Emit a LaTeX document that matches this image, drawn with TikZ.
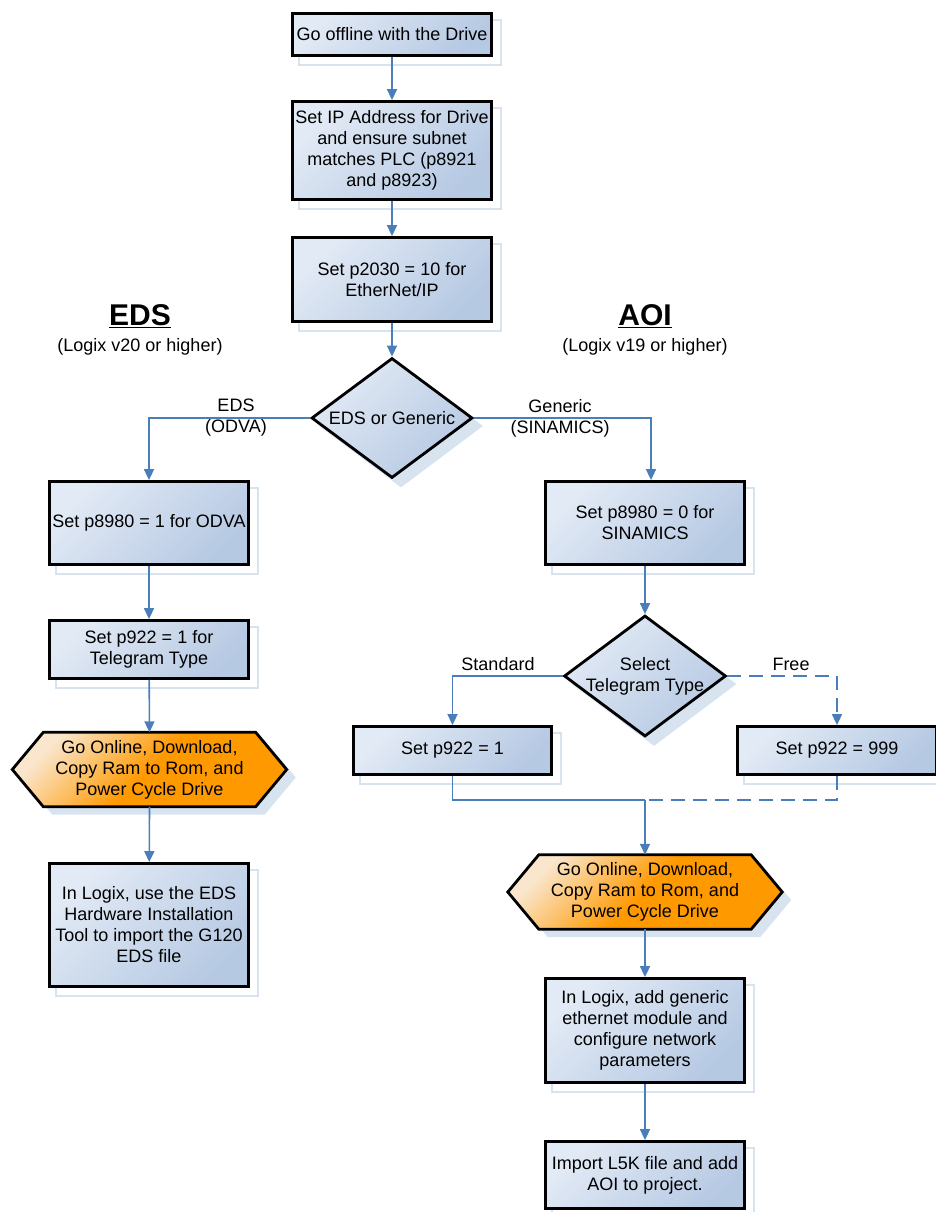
\documentclass[tikz,border=0pt]{standalone}
\usepackage{fontspec}
\setmainfont{Liberation Sans}
\usetikzlibrary{arrows.meta,shapes.geometric,calc}
\definecolor{boxlight}{HTML}{E2EAF5}
\definecolor{boxdark}{HTML}{B6C9E3}
\definecolor{orlight}{HTML}{FAE6CC}
\definecolor{ordark}{HTML}{FF9900}
\definecolor{shadowc}{HTML}{D8E3F0}
\definecolor{connc}{HTML}{4A7EBB}
\pgfdeclarelayer{background}
\pgfsetlayers{background,main}
\newcommand{\bodyfont}{\fontsize{18}{21}\selectfont}
\newcommand{\boxshadow}[1]{\draw[shadowline] ([shift={(8,8)}]#1.north west) rectangle ([shift={(8,8)}]#1.south east);}
\newcommand{\hexpath}[2]{([shift={#2}]#1.west) -- ([shift={#2}]$(#1.north west)+(31,0)$) -- ([shift={#2}]$(#1.north east)+(-31,0)$) -- ([shift={#2}]#1.east) -- ([shift={#2}]$(#1.south east)+(-31,0)$) -- ([shift={#2}]$(#1.south west)+(31,0)$) -- cycle}
\begin{document}
\begin{tikzpicture}[x=1pt,y=-1pt,
  proc/.style={draw=black, line width=2.8pt, top color=boxlight, bottom color=boxdark, shading angle=45,
    align=center, minimum width=199pt, inner sep=2pt, font=\bodyfont, text=black},
  decide/.style={diamond, draw=black, line width=2.8pt, top color=boxlight, bottom color=boxdark, shading angle=45,
    inner sep=0pt, font=\bodyfont, align=center},
  hexbox/.style={shape=rectangle, align=center, minimum width=274pt, minimum height=74pt, inner sep=0pt, font=\bodyfont},
  hexshade/.style={draw=black, line width=2.8pt, top color=orlight, bottom color=ordark, middle color=ordark, shading angle=45},
  shadowline/.style={draw=shadowc, line width=1.3pt},
  conn/.style={draw=connc, line width=1.6pt},
  arr/.style={conn, -{Triangle[length=11pt,width=10pt]}},
  dashconn/.style={conn, dash pattern=on 14pt off 8pt},
  darr/.style={dashconn, -{Triangle[length=11pt,width=10pt]}},
  lbl/.style={font=\bodyfont, align=center, inner sep=0pt},
  title/.style={font=\fontsize{30}{34}\selectfont\bfseries, inner sep=0pt}
]
\useasboundingbox (0,0) rectangle (935,1212);

% main column
\node[proc, minimum height=42pt] (b1) at (392,34.5) {Go offline with the Drive};
\node[proc, minimum height=98pt] (b2) at (392,150.5) {Set IP Address for Drive\\and ensure subnet\\matches PLC (p8921\\and p8923)};
\node[proc, minimum height=84pt] (b3) at (392,279.5) {Set p2030 = 10 for\\EtherNet/IP};
\node[decide, minimum width=161pt, minimum height=120pt, label={[lbl]center:EDS or Generic}] (d1) at (392,418) {};

% titles
\node[title] (tEDS) at (140,316) {\underline{EDS}};
\node[lbl] (sEDS) at (140,347) {(Logix v20 or higher)};
\node[title] (tAOI) at (645,316) {\underline{AOI}};
\node[lbl] (sAOI) at (645,347) {(Logix v19 or higher)};

% left branch
\node[proc, minimum height=83pt] (bA) at (149,523) {Set p8980 = 1 for ODVA};
\node[proc, minimum height=58pt] (bB) at (149,649.5) {Set p922 = 1 for\\Telegram Type};
\node[hexbox] (h1) at (149.5,769.5) {Go Online, Download,\\Copy Ram to Rom, and\\Power Cycle Drive};
\node[proc, minimum height=123pt] (bC) at (149,925) {In Logix, use the EDS\\Hardware Installation\\Tool to import the G120\\EDS file};

% right branch
\node[proc, minimum height=83pt] (bD) at (645,523) {Set p8980 = 0 for\\SINAMICS};
\node[decide, minimum width=162pt, minimum height=121pt, label={[lbl, align=center]center:Select\\Telegram Type}] (d2) at (645,676) {};
\node[proc, minimum width=198pt, minimum height=48pt] (bE) at (452.5,750.5) {Set p922 = 1};
\node[proc, minimum height=48pt] (bF) at (837,750.5) {Set p922 = 999};
\coordinate (m) at (645,800);
\node[hexbox] (h2) at (645,892) {Go Online, Download,\\Copy Ram to Rom, and\\Power Cycle Drive};
\node[proc, minimum height=104pt] (bG) at (645,1030.5) {In Logix, add generic\\ethernet module and\\configure network\\parameters};
\node[proc, minimum height=67pt] (bH) at (645,1175) {Import L5K file and add\\AOI to project.};

% edge labels
\node[lbl] (lEDS) at (236,418) {EDS\\(ODVA)};
\node[lbl] (lGen) at (560,418) {Generic\\(SINAMICS)};
\node[lbl] (lStd) at (498,664) {Standard};
\node[lbl] (lFree) at (791,664) {Free};

% shadows and hexagons
\begin{pgfonlayer}{background}
  \foreach \n in {b1,b2,b3,bA,bB,bC,bD,bE,bF,bG,bH} {\boxshadow{\n}}
  \fill[shadowc] ([shift={(9,8)}]d1.north) -- ([shift={(9,8)}]d1.east) -- ([shift={(9,8)}]d1.south) -- ([shift={(9,8)}]d1.west) -- cycle;
  \fill[shadowc] ([shift={(9,8)}]d2.north) -- ([shift={(9,8)}]d2.east) -- ([shift={(9,8)}]d2.south) -- ([shift={(9,8)}]d2.west) -- cycle;
  \fill[shadowc] \hexpath{h1}{(9,8)};
  \fill[shadowc] \hexpath{h2}{(9,8)};
  \path[hexshade] \hexpath{h1}{(0,0)};
  \path[hexshade] \hexpath{h2}{(0,0)};
\end{pgfonlayer}

% connectors
\draw[arr] (b1) -- (b2);
\draw[arr] (b2) -- (b3);
\draw[arr] (b3) -- (d1);
\draw[arr] (d1.west) -| (bA.north);
\draw[arr] (d1.east) -| ([xshift=6pt]bD.north);
\draw[arr] (bA) -- (bB);
\draw[arr] (bB) -- (h1.north);
\draw[arr] (h1.south) -- (bC);
\draw[arr] (bD) -- (d2.north);
\draw[arr] (d2.west) -| (bE.north);
\draw[darr] (d2.east) -| (bF.north);
\draw[conn] (bE.south) |- (m);
\draw[dashconn] (bF.south) |- (m);
\draw[arr] (m) -- (h2.north);
\draw[arr] (h2.south) -- (bG);
\draw[arr] (bG) -- (bH);
\end{tikzpicture}
\end{document}
